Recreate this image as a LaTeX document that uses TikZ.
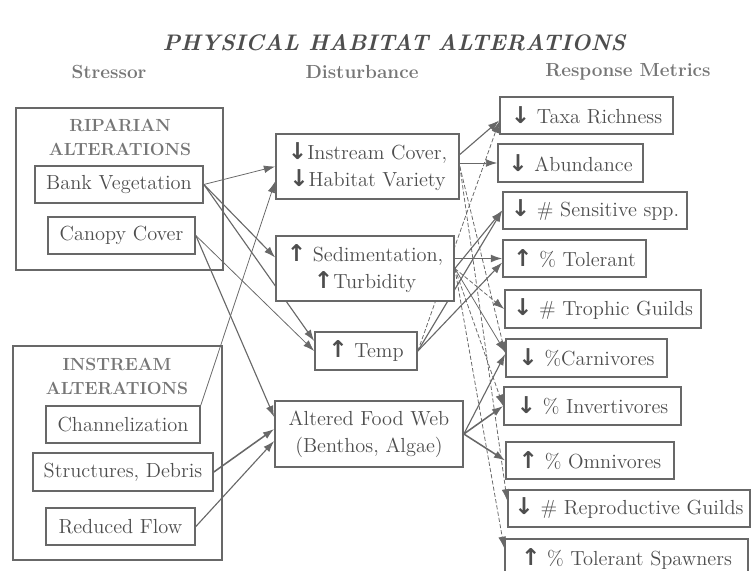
\documentclass[tikz,border=0pt]{standalone}
\usepackage{fontspec}
\newfontfamily\arrowfont{DejaVu Sans}
\usetikzlibrary{arrows.meta, backgrounds, calc}

\definecolor{ink}{HTML}{4E4E4E}
\definecolor{rule}{HTML}{686868}
\definecolor{head}{HTML}{767676}
\newcommand{\arrdown}{{\arrowfont\bfseries\fontsize{16.5}{19}\selectfont ↓}}
\newcommand{\arrup}{{\arrowfont\bfseries\fontsize{16.5}{19}\selectfont ↑}}

\begin{document}
\begin{tikzpicture}[
    x=0.025cm, y=-0.025cm,
    txt/.style={font=\fontsize{14.5}{19}\selectfont, text=ink},
    box/.style={draw=rule, line width=1.2pt, fill=white, inner sep=1pt, align=center, txt},
    frame/.style={draw=rule, line width=1.2pt},
    sz/.style 2 args={minimum width=#1*0.025cm, minimum height=#2*0.025cm},
    heading/.style={font=\fontsize{12.5}{17.5}\selectfont\bfseries, text=head, align=center},
    colhead/.style={font=\fontsize{13.5}{16}\selectfont\bfseries, text=head},
    link/.style={-{Latex[length=8pt,width=5.5pt]}, rule, line width=0.8pt},
    bold link/.style={link, line width=1.1pt},
    thin link/.style={link, line width=0.55pt},
    faint/.style={link, line width=0.55pt, dash pattern=on 3pt off 1.5pt}
]
    \useasboundingbox (0,0) rectangle (752,571);

    % Title and column headings
    \node[font=\fontsize{16}{19}\selectfont\bfseries\itshape, text=ink] (title) at (394,43) {PHYSICAL HABITAT ALTERATIONS};
    \node[colhead] (hstressor) at (109,72) {Stressor};
    \node[colhead] (hdisturb) at (362,72) {Disturbance};
    \node[colhead] (hresponse) at (628,72) {Response Metrics};

    % Stressors
    \node[frame, sz={207}{162}] (riparian) at (119.5,189) {};
    \node[heading] (ripariantitle) at (120,137.5) {RIPARIAN\\ALTERATIONS};
    \node[box, sz={168}{37}] (bank) at (119,184.5) {Bank Vegetation};
    \node[box, sz={147}{37}] (canopy) at (121.5,235.5) {Canopy Cover};

    \node[frame, sz={209}{214}] (instream) at (117.5,453) {};
    \node[heading] (instreamtitle) at (117,376.5) {INSTREAM\\ALTERATIONS};
    \node[box, sz={154}{37}] (chan) at (123,424.5) {Channelization};
    \node[box, sz={180}{38}] (struct) at (123,472) {Structures, Debris};
    \node[box, sz={149}{37}] (flow) at (120.5,526.5) {Reduced Flow};

    % Disturbances
    \node[box, sz={183}{65}] (cover) at (367.5,166.5) {\arrdown Instream Cover,\\\arrdown Habitat Variety};
    \node[box, sz={178}{65}] (sed) at (365,268.5) {\arrup\ Sedimentation,\\\arrup Turbidity};
    \node[box, sz={102}{38}] (temp) at (366,351) {\arrup\ Temp};
    \node[box, sz={188}{66}] (food) at (369,434) {Altered Food Web\\(Benthos, Algae)};

    % Response metrics
    \node[box, sz={173}{37}] (taxa) at (586.5,115.5) {\arrdown\ Taxa Richness};
    \node[box, sz={145}{38}] (abund) at (570.5,163) {\arrdown\ Abundance};
    \node[box, sz={184}{37}] (sens) at (595,210.5) {\arrdown\ \# Sensitive spp.};
    \node[box, sz={143}{37}] (tol) at (574.5,258.5) {\arrup\ \% Tolerant};
    \node[box, sz={196}{38}] (trophic) at (603,309) {\arrdown\ \# Trophic Guilds};
    \node[box, sz={161}{38}] (carniv) at (586.5,358) {\arrdown\ \%Carnivores};
    \node[box, sz={177}{38}] (invert) at (592.5,406) {\arrdown\ \% Invertivores};
    \node[box, sz={168}{37}] (omniv) at (590,460.5) {\arrup\ \% Omnivores};
    \node[box, sz={242}{37}] (repro) at (629,508.5) {\arrdown\ \# Reproductive Guilds};
    \node[box, sz={243}{40}, anchor=north] (spawn) at (626.5,538) {\arrup\ \% Tolerant Spawners};

    \begin{scope}[on background layer]
        % stressor -> disturbance
        \draw[thin link] (bank.east) -- (cover.west);
        \draw[link] (bank.east) -- ($(sed.west)+(0,-11)$);
        \draw[link] (bank.east) -- ($(temp.west)+(0,-10)$);
        \draw[thin link] (canopy.east) -- (temp.west);
        \draw[link] (canopy.east) -- ($(food.west)+(0,-17)$);
        \draw[thin link] (chan.north east) -- ($(cover.west)+(0,15)$);
        \draw[bold link] (struct.east) -- ($(food.west)+(0,-5)$);
        \draw[link] (flow.east) -- ($(food.west)+(0,7)$);

        % disturbance -> response
        \draw[link] ($(cover.east)+(0,-12)$) -- ($(taxa.west)+(0,5)$);
        \draw[thin link] (cover.east |- abund.west) -- (abund.west);
        \draw[faint] (cover.east) -- ($(carniv.west)+(0,-5)$);
        \draw[faint] (cover.east) -- ($(repro.west)+(0,-8)$);

        \draw[link] (sed.east |- tol.west) -- (tol.west);
        \draw[link] (sed.east) -- (sens.west);
        \draw[faint] (sed.east) -- (trophic.west);
        \draw[thin link] (sed.east) -- ($(carniv.west)+(0,-6)$);
        \draw[faint] (sed.east) -- (invert.west);
        \draw[faint] (sed.east) -- ($(spawn.north west)+(0,10)$);

        \draw[faint] (temp.east) -- ($(taxa.west)+(0,6)$);
        \draw[link] (temp.east) -- (sens.west);
        \draw[link] (temp.east) -- ($(tol.west)+(0,4)$);

        \draw[link] (food.east) -- ($(carniv.west)+(0,-4)$);
        \draw[bold link] (food.east) -- (invert.west);
        \draw[bold link] (food.east) -- (omniv.west);
    \end{scope}
\end{tikzpicture}
\end{document}
